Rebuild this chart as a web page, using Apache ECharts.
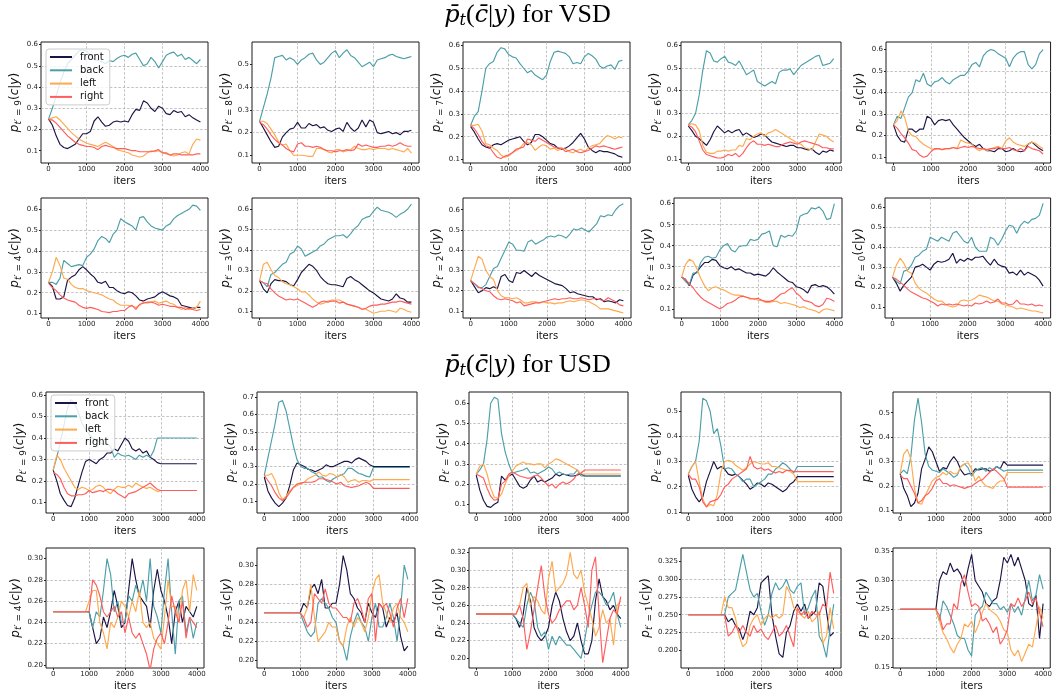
<!DOCTYPE html>
<html>
<head>
<meta charset="utf-8">
<script src="https://cdn.jsdelivr.net/npm/echarts@6/dist/echarts.min.js"></script>
<style>
html, body { margin: 0; padding: 0; background: #fff; }
#main { width: 1055px; height: 698px; }
</style>
</head>
<body>
<div id="main"></div>
<script>
const iters = [0,100,200,300,400,500,600,700,800,900,1000,1100,1200,1300,1400,1500,1600,1700,1800,1900,2000,
  2100,2200,2300,2400,2500,2600,2700,2800,2900,3000,3100,3200,3300,3400,3500,3600,3700,3800,3900,4000];
const names = ['front', 'back', 'left', 'right'];
const colors = ['#1b1446', '#4c9fa8', '#ffa94d', '#ff5c5c'];
const tPrimes = [9, 8, 7, 6, 5, 4, 3, 2, 1, 0];
const xTicks = [0, 1000, 2000, 3000, 4000];

// ---- VSD ----
const vsd9Front = [0.25,0.22,0.17,0.13,0.115,0.11,0.12,0.13,0.155,0.18,0.18,0.19,0.24,0.26,0.235,0.215,0.22,0.235,0.24,0.235,0.24,0.235,0.27,0.295,0.29,0.335,0.325,0.30,0.285,0.31,0.30,0.275,0.27,0.29,0.28,0.285,0.26,0.27,0.255,0.245,0.235];
const vsd9Back = [0.25,0.30,0.36,0.42,0.47,0.51,0.53,0.55,0.57,0.575,0.57,0.55,0.53,0.525,0.52,0.51,0.525,0.52,0.535,0.545,0.55,0.54,0.555,0.56,0.53,0.50,0.51,0.54,0.52,0.49,0.52,0.55,0.56,0.565,0.545,0.555,0.53,0.54,0.525,0.51,0.53];
const vsd9Left = [0.25,0.255,0.26,0.245,0.225,0.205,0.185,0.17,0.155,0.145,0.135,0.13,0.125,0.12,0.13,0.14,0.13,0.12,0.105,0.10,0.095,0.09,0.08,0.075,0.07,0.075,0.09,0.10,0.095,0.10,0.09,0.085,0.08,0.075,0.08,0.09,0.095,0.085,0.13,0.155,0.15];
const vsd9Right = [0.245,0.245,0.23,0.21,0.19,0.17,0.155,0.14,0.13,0.125,0.12,0.12,0.115,0.105,0.12,0.125,0.12,0.115,0.11,0.11,0.11,0.105,0.10,0.10,0.095,0.095,0.095,0.095,0.10,0.105,0.09,0.09,0.08,0.085,0.085,0.08,0.08,0.08,0.08,0.085,0.085];

const vsd8Front = [0.25,0.22,0.19,0.16,0.135,0.14,0.18,0.20,0.215,0.22,0.245,0.22,0.22,0.24,0.23,0.235,0.22,0.225,0.21,0.205,0.215,0.22,0.205,0.245,0.22,0.205,0.22,0.255,0.225,0.255,0.245,0.20,0.195,0.20,0.205,0.195,0.20,0.19,0.205,0.205,0.21];
const vsd8Back = [0.25,0.31,0.37,0.44,0.53,0.535,0.54,0.52,0.53,0.52,0.50,0.52,0.53,0.545,0.55,0.52,0.50,0.51,0.53,0.55,0.56,0.53,0.55,0.565,0.54,0.53,0.51,0.49,0.50,0.51,0.49,0.52,0.525,0.53,0.54,0.545,0.535,0.53,0.525,0.53,0.535];
const vsd8Left = [0.25,0.25,0.24,0.215,0.19,0.16,0.145,0.15,0.12,0.10,0.10,0.10,0.098,0.095,0.095,0.13,0.13,0.125,0.115,0.11,0.125,0.125,0.115,0.12,0.125,0.14,0.13,0.125,0.125,0.13,0.125,0.13,0.13,0.13,0.125,0.13,0.125,0.12,0.115,0.13,0.11];
const vsd8Right = [0.245,0.235,0.215,0.19,0.17,0.155,0.145,0.13,0.12,0.115,0.15,0.155,0.14,0.14,0.135,0.14,0.135,0.125,0.12,0.12,0.115,0.12,0.12,0.125,0.12,0.125,0.15,0.14,0.145,0.14,0.135,0.135,0.14,0.14,0.145,0.14,0.145,0.155,0.145,0.14,0.14];

const vsd7Front = [0.245,0.22,0.19,0.165,0.155,0.15,0.165,0.17,0.165,0.175,0.185,0.19,0.195,0.20,0.18,0.165,0.175,0.21,0.21,0.20,0.185,0.17,0.165,0.15,0.145,0.15,0.16,0.175,0.195,0.215,0.19,0.155,0.14,0.13,0.14,0.135,0.135,0.13,0.125,0.115,0.11];
const vsd7Back = [0.25,0.29,0.31,0.40,0.50,0.52,0.53,0.57,0.59,0.585,0.56,0.55,0.545,0.52,0.50,0.48,0.49,0.47,0.46,0.45,0.47,0.53,0.57,0.575,0.57,0.565,0.55,0.52,0.525,0.52,0.55,0.565,0.555,0.54,0.51,0.50,0.51,0.515,0.495,0.53,0.535];
const vsd7Left = [0.25,0.25,0.255,0.225,0.17,0.165,0.15,0.14,0.12,0.11,0.115,0.13,0.14,0.15,0.17,0.175,0.165,0.14,0.155,0.165,0.16,0.145,0.15,0.14,0.15,0.145,0.135,0.13,0.14,0.145,0.135,0.15,0.16,0.165,0.17,0.19,0.205,0.20,0.19,0.20,0.195];
const vsd7Right = [0.25,0.235,0.21,0.18,0.16,0.155,0.13,0.11,0.105,0.115,0.12,0.13,0.145,0.15,0.155,0.19,0.185,0.18,0.195,0.185,0.175,0.165,0.155,0.15,0.15,0.135,0.14,0.145,0.135,0.13,0.135,0.14,0.15,0.16,0.155,0.16,0.155,0.15,0.145,0.15,0.155];

const vsd6Front = [0.245,0.225,0.20,0.19,0.175,0.16,0.185,0.22,0.245,0.23,0.215,0.225,0.215,0.225,0.23,0.205,0.215,0.205,0.195,0.20,0.21,0.205,0.19,0.175,0.17,0.165,0.16,0.155,0.16,0.16,0.15,0.15,0.145,0.14,0.145,0.13,0.12,0.135,0.13,0.14,0.135];
const vsd6Back = [0.25,0.27,0.30,0.38,0.49,0.575,0.565,0.53,0.525,0.54,0.55,0.525,0.52,0.51,0.53,0.50,0.47,0.48,0.49,0.44,0.43,0.42,0.43,0.44,0.43,0.48,0.49,0.49,0.495,0.47,0.49,0.51,0.52,0.53,0.54,0.55,0.555,0.51,0.515,0.52,0.54];
const vsd6Left = [0.25,0.255,0.25,0.225,0.16,0.13,0.125,0.125,0.135,0.135,0.14,0.135,0.14,0.14,0.16,0.155,0.19,0.185,0.20,0.21,0.215,0.20,0.215,0.22,0.23,0.22,0.21,0.20,0.19,0.18,0.17,0.165,0.15,0.145,0.14,0.175,0.21,0.205,0.20,0.185,0.175];
const vsd6Right = [0.25,0.24,0.22,0.18,0.14,0.12,0.115,0.11,0.105,0.105,0.11,0.12,0.115,0.125,0.11,0.125,0.15,0.17,0.18,0.165,0.165,0.16,0.165,0.16,0.155,0.155,0.165,0.17,0.175,0.17,0.165,0.175,0.18,0.175,0.17,0.165,0.16,0.15,0.15,0.145,0.145];

const vsd5Front = [0.25,0.20,0.175,0.17,0.23,0.23,0.215,0.23,0.23,0.29,0.28,0.25,0.27,0.275,0.27,0.275,0.25,0.23,0.21,0.19,0.175,0.16,0.15,0.16,0.14,0.13,0.13,0.125,0.14,0.14,0.125,0.13,0.14,0.13,0.125,0.13,0.16,0.17,0.155,0.14,0.13];
const vsd5Back = [0.25,0.29,0.28,0.33,0.38,0.40,0.46,0.45,0.49,0.44,0.43,0.45,0.455,0.47,0.45,0.44,0.46,0.47,0.48,0.48,0.50,0.53,0.54,0.52,0.57,0.59,0.60,0.595,0.58,0.57,0.56,0.52,0.56,0.58,0.59,0.59,0.53,0.51,0.53,0.58,0.60];
const vsd5Left = [0.25,0.27,0.315,0.285,0.22,0.20,0.195,0.175,0.16,0.15,0.14,0.135,0.14,0.135,0.14,0.14,0.145,0.14,0.18,0.17,0.165,0.16,0.14,0.13,0.14,0.13,0.14,0.145,0.15,0.14,0.175,0.19,0.17,0.16,0.155,0.15,0.16,0.17,0.165,0.15,0.14];
const vsd5Right = [0.25,0.235,0.21,0.19,0.165,0.135,0.13,0.11,0.10,0.105,0.125,0.14,0.14,0.135,0.14,0.14,0.145,0.14,0.145,0.15,0.145,0.15,0.145,0.14,0.14,0.135,0.14,0.14,0.145,0.14,0.14,0.145,0.135,0.13,0.14,0.13,0.15,0.14,0.135,0.13,0.115];

const vsd4Front = [0.25,0.23,0.17,0.17,0.18,0.26,0.275,0.285,0.31,0.325,0.31,0.29,0.275,0.25,0.245,0.255,0.225,0.225,0.21,0.20,0.195,0.205,0.20,0.185,0.165,0.16,0.17,0.175,0.18,0.195,0.205,0.195,0.185,0.18,0.17,0.14,0.135,0.13,0.125,0.13,0.13];
const vsd4Back = [0.25,0.25,0.24,0.27,0.355,0.34,0.325,0.33,0.335,0.33,0.37,0.385,0.41,0.45,0.47,0.46,0.44,0.48,0.50,0.555,0.54,0.53,0.52,0.50,0.56,0.565,0.54,0.52,0.51,0.505,0.50,0.52,0.53,0.555,0.57,0.58,0.59,0.60,0.62,0.615,0.595];
const vsd4Left = [0.25,0.30,0.37,0.33,0.27,0.265,0.24,0.225,0.22,0.22,0.21,0.205,0.20,0.195,0.19,0.18,0.17,0.165,0.15,0.14,0.14,0.14,0.135,0.13,0.14,0.155,0.15,0.155,0.16,0.15,0.155,0.16,0.15,0.145,0.13,0.12,0.13,0.12,0.125,0.13,0.16];
const vsd4Right = [0.245,0.225,0.21,0.19,0.175,0.165,0.16,0.155,0.14,0.13,0.125,0.13,0.125,0.12,0.11,0.108,0.105,0.11,0.11,0.115,0.115,0.13,0.14,0.12,0.145,0.15,0.155,0.155,0.15,0.14,0.145,0.14,0.135,0.135,0.13,0.13,0.12,0.125,0.12,0.115,0.12];

const vsd3Front = [0.25,0.21,0.19,0.235,0.255,0.25,0.25,0.245,0.23,0.225,0.255,0.29,0.31,0.33,0.32,0.30,0.27,0.25,0.235,0.23,0.23,0.225,0.22,0.26,0.27,0.255,0.245,0.23,0.215,0.20,0.19,0.175,0.16,0.155,0.15,0.16,0.185,0.165,0.16,0.145,0.145];
const vsd3Back = [0.25,0.24,0.22,0.28,0.29,0.31,0.33,0.34,0.38,0.39,0.42,0.405,0.37,0.38,0.39,0.40,0.42,0.43,0.45,0.46,0.47,0.47,0.475,0.46,0.48,0.505,0.52,0.55,0.56,0.565,0.59,0.61,0.595,0.59,0.585,0.575,0.56,0.575,0.585,0.60,0.625];
const vsd3Left = [0.25,0.33,0.34,0.305,0.275,0.265,0.245,0.235,0.23,0.22,0.21,0.195,0.195,0.18,0.16,0.145,0.135,0.14,0.15,0.155,0.155,0.155,0.145,0.135,0.13,0.125,0.12,0.11,0.11,0.10,0.09,0.095,0.10,0.10,0.105,0.10,0.095,0.115,0.11,0.10,0.095];
const vsd3Right = [0.25,0.24,0.235,0.21,0.19,0.175,0.165,0.155,0.16,0.155,0.16,0.15,0.14,0.13,0.12,0.13,0.145,0.15,0.145,0.15,0.15,0.14,0.145,0.135,0.13,0.125,0.12,0.11,0.115,0.125,0.13,0.13,0.135,0.135,0.14,0.145,0.145,0.15,0.145,0.14,0.135];

const vsd2Front = [0.25,0.22,0.19,0.20,0.215,0.21,0.22,0.21,0.27,0.28,0.25,0.24,0.29,0.285,0.30,0.285,0.27,0.29,0.275,0.265,0.255,0.245,0.235,0.23,0.225,0.21,0.19,0.195,0.185,0.18,0.175,0.17,0.17,0.155,0.16,0.145,0.15,0.145,0.14,0.155,0.15];
const vsd2Back = [0.25,0.235,0.215,0.215,0.23,0.27,0.31,0.32,0.36,0.40,0.44,0.43,0.40,0.40,0.395,0.44,0.45,0.43,0.44,0.45,0.465,0.47,0.465,0.475,0.47,0.46,0.48,0.505,0.50,0.51,0.50,0.49,0.51,0.53,0.57,0.565,0.575,0.57,0.60,0.62,0.63];
const vsd2Left = [0.25,0.31,0.37,0.355,0.30,0.27,0.255,0.20,0.175,0.165,0.165,0.16,0.165,0.155,0.14,0.14,0.145,0.145,0.14,0.145,0.14,0.14,0.135,0.14,0.14,0.145,0.15,0.145,0.15,0.155,0.15,0.145,0.135,0.125,0.11,0.11,0.11,0.105,0.10,0.095,0.09];
const vsd2Right = [0.245,0.235,0.22,0.21,0.20,0.195,0.175,0.16,0.155,0.16,0.155,0.15,0.14,0.145,0.125,0.13,0.135,0.14,0.14,0.145,0.15,0.155,0.16,0.155,0.16,0.16,0.165,0.16,0.16,0.165,0.16,0.155,0.16,0.16,0.155,0.15,0.165,0.155,0.145,0.13,0.125];

const vsd1Front = [0.25,0.24,0.21,0.26,0.275,0.30,0.32,0.32,0.335,0.33,0.305,0.295,0.29,0.30,0.285,0.29,0.28,0.27,0.27,0.26,0.265,0.26,0.255,0.27,0.295,0.275,0.26,0.245,0.23,0.225,0.205,0.20,0.19,0.175,0.21,0.215,0.205,0.21,0.205,0.19,0.17];
const vsd1Back = [0.25,0.23,0.215,0.27,0.27,0.32,0.345,0.35,0.34,0.345,0.38,0.40,0.41,0.38,0.37,0.395,0.40,0.40,0.43,0.425,0.43,0.455,0.46,0.47,0.40,0.395,0.45,0.44,0.45,0.445,0.47,0.54,0.55,0.555,0.58,0.575,0.585,0.565,0.525,0.53,0.60];
const vsd1Left = [0.25,0.31,0.335,0.325,0.29,0.245,0.21,0.185,0.20,0.205,0.195,0.19,0.18,0.17,0.165,0.165,0.16,0.155,0.145,0.15,0.14,0.14,0.13,0.13,0.135,0.135,0.125,0.13,0.125,0.12,0.115,0.105,0.11,0.10,0.095,0.09,0.08,0.095,0.10,0.095,0.09];
const vsd1Right = [0.25,0.24,0.22,0.20,0.175,0.155,0.14,0.13,0.12,0.11,0.10,0.11,0.125,0.13,0.14,0.155,0.16,0.155,0.15,0.145,0.15,0.14,0.135,0.135,0.14,0.155,0.17,0.175,0.19,0.20,0.175,0.16,0.14,0.135,0.13,0.115,0.11,0.12,0.15,0.145,0.135];

const vsd0Front = [0.25,0.22,0.18,0.21,0.23,0.25,0.30,0.305,0.315,0.30,0.285,0.315,0.33,0.325,0.33,0.34,0.37,0.32,0.34,0.33,0.345,0.335,0.35,0.35,0.355,0.33,0.31,0.34,0.315,0.305,0.30,0.27,0.275,0.26,0.285,0.26,0.275,0.265,0.255,0.235,0.205];
const vsd0Back = [0.25,0.23,0.215,0.28,0.285,0.31,0.35,0.36,0.38,0.39,0.45,0.44,0.43,0.45,0.44,0.43,0.47,0.48,0.455,0.43,0.42,0.45,0.40,0.38,0.38,0.38,0.45,0.44,0.41,0.44,0.48,0.51,0.505,0.47,0.51,0.53,0.52,0.54,0.545,0.56,0.62];
const vsd0Left = [0.25,0.31,0.345,0.32,0.28,0.27,0.22,0.195,0.18,0.17,0.155,0.14,0.13,0.13,0.115,0.105,0.10,0.105,0.13,0.135,0.13,0.135,0.145,0.16,0.155,0.15,0.14,0.13,0.13,0.115,0.11,0.105,0.10,0.09,0.095,0.09,0.085,0.08,0.08,0.075,0.07];
const vsd0Right = [0.25,0.24,0.225,0.21,0.19,0.175,0.165,0.155,0.145,0.14,0.13,0.12,0.105,0.115,0.11,0.115,0.11,0.115,0.11,0.105,0.11,0.105,0.12,0.115,0.12,0.13,0.12,0.125,0.14,0.12,0.12,0.11,0.115,0.135,0.115,0.115,0.11,0.115,0.105,0.11,0.105];

// ---- USD ----
const usd9Front = [0.25,0.20,0.14,0.11,0.085,0.08,0.12,0.18,0.24,0.29,0.30,0.29,0.28,0.30,0.31,0.33,0.33,0.35,0.34,0.37,0.40,0.385,0.35,0.34,0.35,0.33,0.34,0.31,0.30,0.285,0.28,0.28,0.28,0.28,0.28,0.28,0.28,0.28,0.28,0.28,0.28];
const usd9Back = [0.25,0.31,0.38,0.46,0.54,0.58,0.56,0.52,0.47,0.44,0.42,0.40,0.39,0.38,0.37,0.375,0.36,0.31,0.33,0.32,0.315,0.32,0.31,0.30,0.32,0.31,0.32,0.31,0.34,0.40,0.40,0.40,0.40,0.40,0.40,0.40,0.40,0.40,0.40,0.40,0.40];
const usd9Left = [0.25,0.32,0.30,0.26,0.23,0.20,0.17,0.16,0.17,0.165,0.155,0.16,0.175,0.18,0.17,0.15,0.14,0.16,0.175,0.17,0.17,0.18,0.17,0.19,0.18,0.17,0.165,0.17,0.16,0.15,0.155,0.155,0.155,0.155,0.155,0.155,0.155,0.155,0.155,0.155,0.155];
const usd9Right = [0.24,0.23,0.21,0.17,0.14,0.13,0.13,0.135,0.135,0.14,0.155,0.145,0.15,0.155,0.15,0.16,0.16,0.155,0.14,0.13,0.12,0.14,0.145,0.15,0.16,0.17,0.18,0.19,0.175,0.16,0.155,0.155,0.155,0.155,0.155,0.155,0.155,0.155,0.155,0.155,0.155];

const usd8Front = [0.24,0.16,0.12,0.09,0.07,0.09,0.12,0.19,0.28,0.32,0.31,0.30,0.285,0.28,0.27,0.28,0.29,0.31,0.30,0.30,0.31,0.32,0.33,0.33,0.32,0.34,0.35,0.34,0.33,0.31,0.30,0.30,0.30,0.30,0.30,0.30,0.30,0.30,0.30,0.30,0.30];
const usd8Back = [0.25,0.35,0.45,0.55,0.67,0.68,0.62,0.52,0.42,0.34,0.30,0.29,0.29,0.27,0.26,0.24,0.24,0.22,0.21,0.23,0.24,0.25,0.26,0.29,0.29,0.275,0.26,0.255,0.245,0.24,0.295,0.295,0.295,0.295,0.295,0.295,0.295,0.295,0.295,0.295,0.295];
const usd8Left = [0.25,0.25,0.26,0.22,0.15,0.11,0.13,0.16,0.18,0.19,0.20,0.21,0.23,0.24,0.25,0.27,0.25,0.245,0.26,0.255,0.24,0.255,0.24,0.21,0.22,0.225,0.21,0.22,0.22,0.215,0.225,0.225,0.225,0.225,0.225,0.225,0.225,0.225,0.225,0.225,0.225];
const usd8Right = [0.25,0.22,0.19,0.15,0.12,0.105,0.12,0.15,0.18,0.20,0.205,0.21,0.21,0.21,0.215,0.23,0.23,0.225,0.22,0.21,0.20,0.21,0.19,0.185,0.18,0.185,0.19,0.20,0.21,0.20,0.175,0.175,0.175,0.175,0.175,0.175,0.175,0.175,0.175,0.175,0.175];

const usd7Front = [0.245,0.17,0.12,0.09,0.085,0.10,0.11,0.24,0.22,0.24,0.25,0.22,0.19,0.18,0.19,0.22,0.24,0.21,0.22,0.21,0.22,0.23,0.25,0.24,0.25,0.245,0.24,0.24,0.245,0.25,0.24,0.24,0.24,0.24,0.24,0.24,0.24,0.24,0.24,0.24,0.24];
const usd7Back = [0.25,0.27,0.30,0.42,0.60,0.63,0.62,0.45,0.36,0.30,0.255,0.26,0.265,0.27,0.28,0.255,0.26,0.25,0.26,0.27,0.285,0.275,0.25,0.26,0.25,0.245,0.25,0.25,0.27,0.24,0.24,0.24,0.24,0.24,0.24,0.24,0.24,0.24,0.24,0.24,0.24];
const usd7Left = [0.25,0.29,0.30,0.25,0.18,0.135,0.13,0.15,0.20,0.24,0.265,0.29,0.30,0.31,0.30,0.30,0.295,0.30,0.30,0.28,0.30,0.31,0.325,0.32,0.31,0.30,0.29,0.28,0.27,0.25,0.25,0.25,0.25,0.25,0.25,0.25,0.25,0.25,0.25,0.25,0.25];
const usd7Right = [0.25,0.24,0.23,0.18,0.14,0.12,0.125,0.20,0.215,0.25,0.26,0.25,0.24,0.235,0.23,0.23,0.24,0.245,0.23,0.21,0.19,0.20,0.18,0.20,0.21,0.20,0.21,0.225,0.25,0.255,0.27,0.27,0.27,0.27,0.27,0.27,0.27,0.27,0.27,0.27,0.27];

const usd6Front = [0.245,0.19,0.16,0.14,0.16,0.22,0.26,0.30,0.27,0.28,0.27,0.25,0.245,0.25,0.24,0.225,0.21,0.19,0.20,0.215,0.21,0.20,0.215,0.21,0.20,0.19,0.18,0.19,0.21,0.22,0.24,0.24,0.24,0.24,0.24,0.24,0.24,0.24,0.24,0.24,0.24];
const usd6Back = [0.25,0.28,0.30,0.38,0.55,0.54,0.50,0.41,0.43,0.36,0.27,0.275,0.27,0.25,0.24,0.22,0.23,0.23,0.20,0.21,0.22,0.23,0.25,0.25,0.27,0.28,0.295,0.285,0.27,0.255,0.28,0.28,0.28,0.28,0.28,0.28,0.28,0.28,0.28,0.28,0.28];
const usd6Left = [0.25,0.28,0.30,0.22,0.15,0.12,0.13,0.125,0.17,0.26,0.30,0.305,0.30,0.285,0.275,0.265,0.275,0.29,0.30,0.295,0.29,0.29,0.295,0.28,0.28,0.275,0.27,0.265,0.26,0.25,0.22,0.22,0.22,0.22,0.22,0.22,0.22,0.22,0.22,0.22,0.22];
const usd6Right = [0.25,0.23,0.23,0.20,0.14,0.12,0.14,0.145,0.15,0.17,0.20,0.21,0.23,0.24,0.25,0.26,0.27,0.32,0.28,0.27,0.275,0.265,0.27,0.26,0.255,0.26,0.255,0.265,0.265,0.26,0.26,0.26,0.26,0.26,0.26,0.26,0.26,0.26,0.26,0.26,0.26];

const usd5Front = [0.25,0.19,0.16,0.115,0.13,0.17,0.27,0.31,0.36,0.34,0.30,0.26,0.275,0.27,0.30,0.32,0.30,0.265,0.245,0.25,0.25,0.27,0.265,0.27,0.27,0.26,0.265,0.28,0.27,0.30,0.285,0.285,0.285,0.285,0.285,0.285,0.285,0.285,0.285,0.285,0.285];
const usd5Back = [0.25,0.265,0.25,0.32,0.47,0.56,0.46,0.33,0.28,0.265,0.26,0.255,0.27,0.26,0.25,0.235,0.245,0.28,0.29,0.275,0.24,0.26,0.27,0.275,0.26,0.275,0.265,0.28,0.27,0.26,0.265,0.265,0.265,0.265,0.265,0.265,0.265,0.265,0.265,0.265,0.265];
const usd5Left = [0.25,0.33,0.35,0.31,0.19,0.13,0.125,0.16,0.19,0.22,0.235,0.24,0.255,0.245,0.26,0.25,0.25,0.28,0.29,0.295,0.27,0.22,0.24,0.215,0.20,0.195,0.19,0.21,0.22,0.22,0.255,0.255,0.255,0.255,0.255,0.255,0.255,0.255,0.255,0.255,0.255];
const usd5Right = [0.245,0.23,0.23,0.20,0.17,0.13,0.14,0.16,0.17,0.19,0.22,0.23,0.21,0.21,0.20,0.205,0.20,0.195,0.19,0.195,0.20,0.21,0.22,0.225,0.24,0.255,0.27,0.26,0.245,0.23,0.195,0.195,0.195,0.195,0.195,0.195,0.195,0.195,0.195,0.195,0.195];

const usd4Front = [0.25,0.25,0.25,0.25,0.25,0.25,0.25,0.25,0.25,0.25,0.25,0.235,0.22,0.225,0.245,0.235,0.25,0.27,0.255,0.235,0.24,0.27,0.30,0.28,0.265,0.26,0.255,0.235,0.27,0.29,0.27,0.26,0.245,0.22,0.25,0.26,0.24,0.255,0.25,0.245,0.255];
const usd4Back = [0.25,0.25,0.25,0.25,0.25,0.25,0.25,0.25,0.25,0.25,0.25,0.235,0.25,0.245,0.27,0.30,0.285,0.25,0.26,0.24,0.24,0.265,0.26,0.275,0.265,0.28,0.26,0.30,0.255,0.245,0.23,0.27,0.30,0.25,0.21,0.26,0.265,0.23,0.245,0.225,0.24];
const usd4Left = [0.25,0.25,0.25,0.25,0.25,0.25,0.25,0.25,0.25,0.25,0.26,0.27,0.27,0.24,0.23,0.215,0.24,0.235,0.245,0.26,0.255,0.245,0.26,0.25,0.27,0.24,0.235,0.24,0.225,0.22,0.215,0.245,0.28,0.255,0.255,0.24,0.27,0.28,0.25,0.285,0.27];
const usd4Right = [0.25,0.25,0.25,0.25,0.25,0.25,0.25,0.25,0.25,0.25,0.25,0.28,0.275,0.265,0.25,0.245,0.25,0.255,0.245,0.25,0.23,0.245,0.23,0.225,0.23,0.22,0.21,0.195,0.215,0.225,0.23,0.22,0.24,0.265,0.25,0.24,0.26,0.225,0.245,0.24,0.235];

const usd3Front = [0.25,0.25,0.25,0.25,0.25,0.25,0.25,0.25,0.25,0.25,0.25,0.26,0.255,0.275,0.28,0.27,0.285,0.255,0.255,0.26,0.26,0.28,0.31,0.295,0.27,0.265,0.255,0.25,0.24,0.26,0.25,0.245,0.26,0.255,0.235,0.245,0.24,0.25,0.225,0.21,0.215];
const usd3Back = [0.25,0.25,0.25,0.25,0.25,0.25,0.25,0.25,0.25,0.25,0.25,0.24,0.23,0.225,0.23,0.26,0.265,0.26,0.255,0.245,0.24,0.22,0.215,0.20,0.225,0.24,0.25,0.24,0.235,0.22,0.245,0.26,0.235,0.235,0.245,0.26,0.245,0.22,0.255,0.30,0.285];
const usd3Left = [0.25,0.25,0.25,0.25,0.25,0.25,0.25,0.25,0.25,0.25,0.25,0.245,0.255,0.28,0.245,0.22,0.225,0.23,0.24,0.235,0.235,0.22,0.215,0.235,0.245,0.235,0.245,0.24,0.23,0.245,0.27,0.285,0.29,0.26,0.25,0.24,0.255,0.26,0.245,0.24,0.23];
const usd3Right = [0.25,0.25,0.25,0.25,0.25,0.25,0.25,0.25,0.25,0.25,0.25,0.245,0.235,0.24,0.27,0.265,0.26,0.275,0.26,0.255,0.255,0.25,0.245,0.245,0.24,0.26,0.265,0.255,0.24,0.265,0.27,0.22,0.26,0.255,0.26,0.25,0.235,0.255,0.265,0.245,0.265];

const usd2Front = [0.25,0.25,0.25,0.25,0.25,0.25,0.25,0.25,0.25,0.25,0.25,0.245,0.235,0.25,0.28,0.265,0.235,0.225,0.22,0.225,0.235,0.26,0.275,0.265,0.245,0.23,0.22,0.225,0.24,0.22,0.205,0.205,0.22,0.265,0.29,0.27,0.265,0.255,0.26,0.25,0.245];
const usd2Back = [0.25,0.25,0.25,0.25,0.25,0.25,0.25,0.25,0.25,0.25,0.25,0.245,0.24,0.235,0.26,0.275,0.265,0.235,0.225,0.23,0.21,0.225,0.215,0.225,0.22,0.215,0.215,0.21,0.205,0.20,0.22,0.245,0.26,0.275,0.275,0.27,0.26,0.265,0.275,0.25,0.235];
const usd2Left = [0.25,0.25,0.25,0.25,0.25,0.25,0.25,0.25,0.25,0.25,0.25,0.25,0.26,0.28,0.285,0.26,0.27,0.265,0.255,0.25,0.29,0.31,0.275,0.28,0.285,0.295,0.32,0.295,0.29,0.30,0.275,0.26,0.245,0.225,0.235,0.255,0.24,0.245,0.215,0.26,0.265];
const usd2Right = [0.25,0.25,0.25,0.25,0.25,0.25,0.25,0.25,0.25,0.25,0.25,0.25,0.26,0.245,0.21,0.23,0.255,0.28,0.305,0.27,0.25,0.24,0.245,0.255,0.26,0.265,0.265,0.255,0.26,0.28,0.26,0.235,0.30,0.315,0.25,0.195,0.22,0.245,0.255,0.25,0.27];

const usd1Front = [0.25,0.25,0.25,0.25,0.25,0.25,0.25,0.25,0.25,0.25,0.25,0.24,0.245,0.235,0.23,0.215,0.23,0.255,0.25,0.26,0.295,0.30,0.305,0.25,0.22,0.195,0.19,0.225,0.235,0.255,0.265,0.255,0.265,0.245,0.25,0.255,0.295,0.29,0.255,0.22,0.225];
const usd1Back = [0.25,0.25,0.25,0.25,0.25,0.25,0.25,0.25,0.25,0.25,0.25,0.275,0.28,0.285,0.31,0.335,0.31,0.285,0.275,0.28,0.255,0.235,0.25,0.28,0.295,0.285,0.29,0.30,0.285,0.28,0.29,0.295,0.25,0.26,0.275,0.285,0.22,0.21,0.19,0.23,0.265];
const usd1Left = [0.25,0.25,0.25,0.25,0.25,0.25,0.25,0.25,0.25,0.25,0.275,0.26,0.26,0.245,0.22,0.205,0.21,0.235,0.245,0.25,0.235,0.245,0.25,0.245,0.25,0.245,0.25,0.29,0.28,0.26,0.255,0.25,0.245,0.255,0.24,0.245,0.255,0.21,0.22,0.26,0.23];
const usd1Right = [0.25,0.25,0.25,0.25,0.25,0.25,0.25,0.25,0.25,0.25,0.25,0.22,0.225,0.235,0.225,0.235,0.225,0.22,0.235,0.225,0.23,0.22,0.215,0.225,0.235,0.22,0.225,0.235,0.22,0.205,0.26,0.25,0.255,0.245,0.255,0.25,0.25,0.265,0.26,0.31,0.28];

const usd0Front = [0.25,0.25,0.25,0.25,0.25,0.25,0.25,0.25,0.25,0.25,0.25,0.30,0.315,0.31,0.33,0.315,0.32,0.31,0.29,0.32,0.345,0.30,0.29,0.28,0.26,0.255,0.265,0.27,0.30,0.34,0.33,0.345,0.325,0.34,0.32,0.30,0.26,0.255,0.275,0.20,0.26];
const usd0Back = [0.25,0.25,0.25,0.25,0.25,0.25,0.25,0.25,0.25,0.25,0.25,0.23,0.265,0.255,0.24,0.225,0.205,0.20,0.20,0.18,0.17,0.24,0.25,0.255,0.28,0.27,0.26,0.26,0.25,0.255,0.245,0.26,0.245,0.255,0.24,0.27,0.30,0.265,0.275,0.31,0.285];
const usd0Left = [0.25,0.25,0.25,0.25,0.25,0.25,0.25,0.25,0.25,0.25,0.25,0.23,0.21,0.20,0.185,0.175,0.19,0.20,0.225,0.22,0.23,0.21,0.225,0.245,0.26,0.25,0.245,0.24,0.23,0.215,0.21,0.18,0.17,0.18,0.16,0.175,0.19,0.185,0.22,0.255,0.235];
const usd0Right = [0.25,0.25,0.25,0.25,0.25,0.25,0.25,0.25,0.25,0.25,0.25,0.24,0.215,0.225,0.225,0.26,0.25,0.295,0.31,0.28,0.255,0.26,0.255,0.23,0.235,0.225,0.21,0.22,0.19,0.20,0.215,0.26,0.255,0.27,0.255,0.265,0.28,0.26,0.27,0.245,0.22];

const panelLines = [
  [vsd9Front, vsd9Back, vsd9Left, vsd9Right], [vsd8Front, vsd8Back, vsd8Left, vsd8Right],
  [vsd7Front, vsd7Back, vsd7Left, vsd7Right], [vsd6Front, vsd6Back, vsd6Left, vsd6Right],
  [vsd5Front, vsd5Back, vsd5Left, vsd5Right], [vsd4Front, vsd4Back, vsd4Left, vsd4Right],
  [vsd3Front, vsd3Back, vsd3Left, vsd3Right], [vsd2Front, vsd2Back, vsd2Left, vsd2Right],
  [vsd1Front, vsd1Back, vsd1Left, vsd1Right], [vsd0Front, vsd0Back, vsd0Left, vsd0Right],
  [usd9Front, usd9Back, usd9Left, usd9Right], [usd8Front, usd8Back, usd8Left, usd8Right],
  [usd7Front, usd7Back, usd7Left, usd7Right], [usd6Front, usd6Back, usd6Left, usd6Right],
  [usd5Front, usd5Back, usd5Left, usd5Right], [usd4Front, usd4Back, usd4Left, usd4Right],
  [usd3Front, usd3Back, usd3Left, usd3Right], [usd2Front, usd2Back, usd2Left, usd2Right],
  [usd1Front, usd1Back, usd1Left, usd1Right], [usd0Front, usd0Back, usd0Left, usd0Right]
];

// y axis extents and tick labels per panel
const yMins = [0.042, 0.066, 0.085, 0.083, 0.073, 0.079, 0.067, 0.065, 0.056, 0.045,
               0.05, 0.033, 0.057, 0.096, 0.089, 0.197, 0.192, 0.189, 0.175, 0.149];
const yMaxs = [0.6125, 0.599, 0.615, 0.613, 0.635, 0.654, 0.655, 0.658, 0.627, 0.647,
               0.615, 0.729, 0.656, 0.575, 0.585, 0.31, 0.318, 0.325, 0.344, 0.356];
const t1to6 = [0.1, 0.2, 0.3, 0.4, 0.5, 0.6];
const t1to5 = [0.1, 0.2, 0.3, 0.4, 0.5];
const t1to7 = [0.1, 0.2, 0.3, 0.4, 0.5, 0.6, 0.7];
const yTickLists = [
  t1to6, t1to5, t1to6, t1to6, t1to6,
  t1to6, t1to6, t1to6, t1to6, t1to6,
  t1to6, t1to7, t1to6, t1to5, t1to5,
  [0.20, 0.22, 0.24, 0.26, 0.28, 0.30], [0.20, 0.22, 0.24, 0.26, 0.28, 0.30],
  [0.20, 0.22, 0.24, 0.26, 0.28, 0.30, 0.32], [0.200, 0.225, 0.250, 0.275, 0.300, 0.325],
  [0.15, 0.20, 0.25, 0.30, 0.35]
];
const yDecimals = [1,1,1,1,1, 1,1,1,1,1, 1,1,1,1,1, 2,2,2,3,2];

// layout (pixels)
const rowTops = [42, 198, 392, 548];
const rowHeights = [121, 120, 121, 120];
const colLefts = [[41, 252, 463, 681, 886], [41, 252, 463, 674, 885], [46, 257, 469, 681, 893], [46, 257, 469, 681, 893]];
const colRights = [[208, 419, 630, 841, 1053], [208, 419, 631, 842, 1053], [204, 417, 628, 841, 1052], [204, 415, 628, 841, 1052]];

const grids = [], xAxes = [], yAxes = [], series = [];
const tickFont = { fontFamily: 'DejaVu Sans', fontSize: 7, color: '#222' };
const gridLine = { show: true, showMinLine: false, showMaxLine: false, lineStyle: { color: '#b3b3b3', type: [2.5, 1.8], width: 0.8 } };

panelLines.forEach(function (lines, p) {
  const row = Math.floor(p / 5), col = p % 5;
  const left = colLefts[row][col], right = colRights[row][col];
  grids.push({ left: left, top: rowTops[row], width: right - left, height: rowHeights[row],
    show: true, borderColor: '#1a1a1a', borderWidth: 1, containLabel: false });
  xAxes.push({
    type: 'value', gridIndex: p, min: -200, max: 4200, minInterval: 1000, maxInterval: 1000,
    name: 'iters', nameLocation: 'middle', nameGap: 13,
    nameTextStyle: { fontFamily: 'DejaVu Sans', fontSize: 10, color: '#111' },
    axisLine: { show: false, onZero: false },
    axisTick: { show: true, length: 2, customValues: xTicks, lineStyle: { color: '#222' } },
    axisLabel: Object.assign({ margin: 2.5, customValues: xTicks,
      formatter: function (v) { return String(v); } }, tickFont),
    splitLine: gridLine
  });
  const ticks = yTickLists[p], dec = yDecimals[p];
  const step = Math.round((ticks[1] - ticks[0]) * 1000) / 1000;
  const t = tPrimes[p % 10];
  yAxes.push({
    type: 'value', gridIndex: p, min: yMins[p], max: yMaxs[p], minInterval: step, maxInterval: step,
    name: '{i|p}{si|t′}{s| = ' + t + '}{n|(}{i|c}{n||}{i|y}{n|)}',
    nameLocation: 'middle', nameRotate: 90, nameGap: dec === 1 ? 15 : (dec === 2 ? 18 : 21),
    nameTextStyle: {
      color: '#111', fontFamily: 'DejaVu Sans', fontSize: 12,
      rich: {
        i: { fontFamily: 'DejaVu Sans', fontStyle: 'italic', fontSize: 12, color: '#111' },
        n: { fontFamily: 'DejaVu Sans', fontSize: 12, color: '#111' },
        si: { fontFamily: 'DejaVu Sans', fontStyle: 'italic', fontSize: 9, color: '#111', padding: [7, 0, 0, 0] },
        s: { fontFamily: 'DejaVu Sans', fontSize: 9, color: '#111', padding: [7, 0, 0, 0] }
      }
    },
    axisLine: { show: false, onZero: false },
    axisTick: { show: true, length: 2, customValues: ticks, lineStyle: { color: '#222' } },
    axisLabel: Object.assign({ margin: 3, customValues: ticks,
      formatter: function (v) { return v.toFixed(dec); } }, tickFont),
    splitLine: gridLine
  });
  lines.forEach(function (vals, k) {
    series.push({
      name: names[k], type: 'line', xAxisIndex: p, yAxisIndex: p,
      data: iters.map(function (it, j) { return [it, vals[j]]; }),
      symbol: 'none', showSymbol: false, color: colors[k],
      lineStyle: { color: colors[k], width: 1.15 }, z: 2 + k, silent: true
    });
  });
});

function legendAt(left, top) {
  return {
    left: left, top: top, orient: 'vertical', data: names,
    icon: 'path://M0 0H22V2H0Z', itemWidth: 22, itemHeight: 12, itemGap: 3.3,
    padding: [3, 6, 3, 4], backgroundColor: 'rgba(255,255,255,0.8)',
    borderColor: '#cccccc', borderWidth: 1, borderRadius: 3,
    textStyle: { fontFamily: 'DejaVu Sans', fontSize: 10, color: '#111', padding: [0, 0, 0, 3] },
    selectedMode: false
  };
}

function titleAt(top, method) {
  return {
    left: 'center', top: top,
    text: '{m|p\u0304}{sub|t}{n|(}{m|c\u0304}{n||}{m|y}{n|) for ' + method + '}',
    textStyle: {
      fontWeight: 'normal',
      rich: {
        m: { fontFamily: 'DejaVu Serif', fontStyle: 'italic', fontWeight: 'normal', fontSize: 24, color: '#000' },
        n: { fontFamily: 'Liberation Serif', fontWeight: 'normal', fontSize: 26, color: '#000' },
        sub: { fontFamily: 'DejaVu Serif', fontStyle: 'italic', fontWeight: 'normal', fontSize: 16, color: '#000', padding: [11, 0, 0, 0] }
      }
    }
  };
}

const chart = echarts.init(document.getElementById('main'), null, { renderer: 'canvas' });
chart.setOption({
  animation: false,
  backgroundColor: '#ffffff',
  title: [titleAt(-3, 'VSD'), titleAt(347, 'USD')],
  legend: [legendAt(46, 49), legendAt(51, 395)],
  grid: grids,
  xAxis: xAxes,
  yAxis: yAxes,
  series: series
});
</script>
</body>
</html>
